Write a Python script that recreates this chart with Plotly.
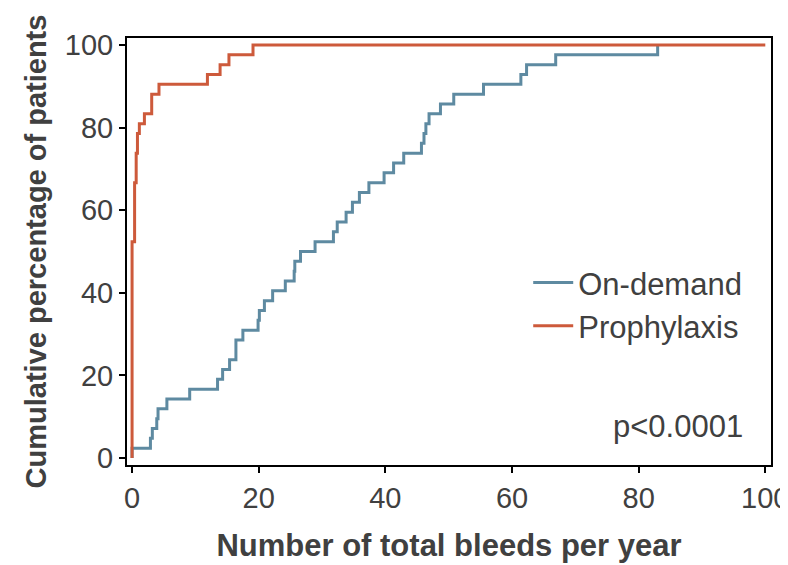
import plotly.graph_objects as go

# On-demand group: annual bleed rate at each step and cumulative % of patients
od_bleeds = [0, 0, 2.9, 3.2, 3.9, 4.1, 5.5, 9.1, 13.5, 14.3, 15.4, 16.4, 17.5, 19.9,
             20.1, 20.9, 22.2, 24.2, 25.6, 25.7, 26.6, 28.9, 31.8, 32.4, 33.8, 34.8,
             35.9, 37.4, 39.8, 41.3, 42.9, 45.7, 46.1, 46.4, 46.9, 48.7, 50.8, 55.5,
             61.4, 62.3, 66.9, 83.0]
od_pct = [0, 2.38, 4.76, 7.14, 9.52, 11.90, 14.29, 16.67, 19.05, 21.43, 23.81, 28.57,
          30.95, 33.33, 35.71, 38.10, 40.48, 42.86, 45.24, 47.62, 50.00, 52.38, 54.76,
          57.14, 59.52, 61.90, 64.29, 66.67, 69.05, 71.43, 73.81, 76.19, 78.57, 80.95,
          83.33, 85.71, 88.10, 90.48, 92.86, 95.24, 97.62, 100.0]

# Prophylaxis group
pr_bleeds = [0, 0, 0.4, 0.65, 0.85, 1.15, 1.95, 3.1, 4.25, 11.9, 13.9, 15.3, 19.1, 100]
pr_pct = [0, 52.38, 66.67, 73.81, 78.57, 80.95, 83.33, 88.10, 90.48, 92.86, 95.24,
          97.62, 100.0, 100.0]

x_ticks = [0, 20, 40, 60, 80, 100]
y_ticks = [0, 20, 40, 60, 80, 100]

blue = "#5e8aa1"
red = "#cd5a3b"
txt = "#404040"
font_family = "Liberation Sans, Arial, sans-serif"

fig = go.Figure()
fig.add_trace(go.Scatter(x=od_bleeds, y=od_pct, mode="lines", name="On-demand",
                         line=dict(color=blue, width=3, shape="hv")))
fig.add_trace(go.Scatter(x=pr_bleeds, y=pr_pct, mode="lines", name="Prophylaxis",
                         line=dict(color=red, width=3, shape="hv")))

axis_common = dict(showline=True, linecolor="black", linewidth=2, mirror=True,
                   ticks="outside", ticklen=6, tickwidth=2, tickcolor="black",
                   showgrid=False, zeroline=False, automargin=False,
                   tickfont=dict(size=29, color=txt, family=font_family))

fig.update_xaxes(range=[-0.8, 100.9], tickvals=x_ticks, **axis_common,
                 title=dict(text="Number of total bleeds per year", standoff=22,
                            font=dict(size=31, color=txt, family=font_family, weight="bold")))
fig.update_yaxes(range=[-1.7, 101.7], tickvals=y_ticks, **axis_common,
                 title=dict(text="Cumulative percentage of patients", standoff=10,
                            font=dict(size=29, color=txt, family=font_family, weight="bold")))

fig.add_annotation(x=0.96, y=0.091, xref="paper", yref="paper", xanchor="right",
                   yanchor="middle", showarrow=False, text="p<0.0001",
                   font=dict(size=31, color=txt, family=font_family))

fig.update_layout(
    width=788, height=565,
    margin=dict(l=119, r=25, t=30, b=108),
    plot_bgcolor="white", paper_bgcolor="white",
    font=dict(family=font_family, color=txt),
    legend=dict(x=0.623, y=0.49, xanchor="left", yanchor="top",
                bgcolor="rgba(0,0,0,0)", itemwidth=40,
                font=dict(size=31, color=txt, family=font_family),
                tracegroupgap=0),
)

fig.write_html("out.html")
